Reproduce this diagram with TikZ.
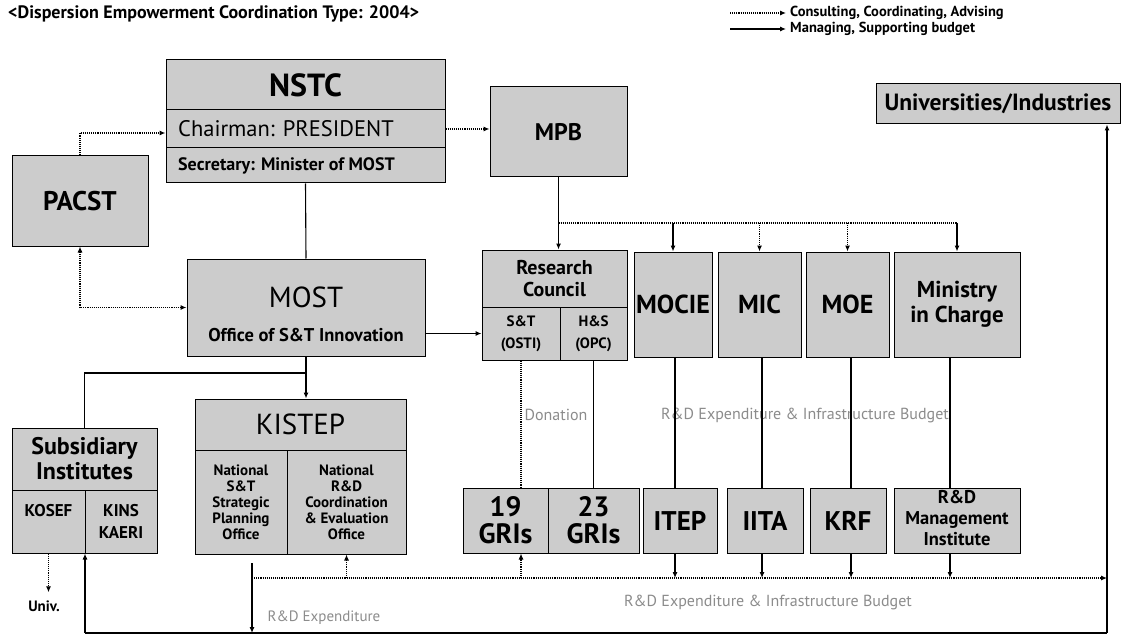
\documentclass[tikz,border=0pt]{standalone}
\usepackage{fontspec}
\setmainfont{PT Sans}
\usetikzlibrary{arrows.meta}
\definecolor{boxgray}{gray}{0.80}
\definecolor{lblgray}{gray}{0.55}
\newcommand\fz[2]{\fontsize{#1}{#2}\selectfont}
\begin{document}
\begin{tikzpicture}[x=1pt,y=-1pt,
  >={Latex[length=6pt,width=5pt]},
  box/.style={draw, line width=1pt, fill=boxgray, inner sep=0pt, align=center},
  sz/.style 2 args={minimum width=#1pt, minimum height=#2pt},
  solidline/.style={line width=1.1pt},
  dotline/.style={line width=1.1pt, densely dotted},
  lbl/.style={inner sep=0pt, text=lblgray, font=\fz{16}{18}},
  txt/.style={inner sep=0pt, font=\bfseries\fz{12}{14}}]
\path[use as bounding box, fill=white] (0,0) rectangle (1127,639);

% title and legend
\node[inner sep=0pt, anchor=west, font=\bfseries\fz{18}{20}] (title) at (8,14) {<Dispersion Empowerment Coordination Type: 2004>};
\coordinate (la1) at (730,13);
\coordinate (la2) at (786,13);
\coordinate (lb1) at (730,29);
\coordinate (lb2) at (786,29);
\node[txt, anchor=west, font=\bfseries\fz{14.5}{16}] (leg1) at (790,13) {Consulting, Coordinating, Advising};
\node[txt, anchor=west, font=\bfseries\fz{14.5}{16}] (leg2) at (790,29) {Managing, Supporting budget};
\draw[dotline,->] (la1) -- (la2);
\draw[solidline,->] (lb1) -- (lb2);

% NSTC
\node[box, sz={279}{50}, font=\bfseries\fz{32}{34}] (nstc) at (305.5,85) {NSTC};
\node[box, sz={279}{38}] (chair) at (305.5,129) {};
\node[box, sz={279}{35}] (secr) at (305.5,165.5) {};
\node[txt, anchor=west, font=\fz{22.5}{24}] (chairt) at (178,129) {Chairman: PRESIDENT};
\node[txt, anchor=west, font=\bfseries\fz{18}{20}] (secrt) at (178,165.5) {Secretary: Minister of MOST};

\node[box, sz={137}{90}, font=\bfseries\fz{24}{26}] (mpb) at (558.5,132) {MPB};
\node[box, sz={136}{90}, font=\bfseries\fz{27}{29}] (pacst) at (80,201) {PACST};
\node[box, sz={244}{40}, font=\bfseries\fz{23.5}{26}] (univ) at (998,104) {Universities/Industries};

% MOST
\node[box, sz={238}{97}] (most) at (306,307.5) {};
\node[txt, font=\fz{29}{30}] (mostt) at (306,297) {MOST};
\node[txt, font=\bfseries\fz{18.5}{20}] (mosts) at (306,335) {Office of S\&T Innovation};

% Research council
\node[box, sz={145}{57}, font=\bfseries\fz{20}{22}] (rc) at (554.5,278.5) {Research\\Council};
\node[box, sz={78}{53}, font=\bfseries\fz{15}{22}] (st) at (521,333.5) {S\&T\\(OSTI)};
\node[box, sz={67}{53}, font=\bfseries\fz{15}{22}] (hs) at (593.5,333.5) {H\&S\\(OPC)};

% ministries
\node[box, sz={78}{105}, font=\bfseries\fz{26}{28}] (mocie) at (673,304.5) {MOCIE};
\node[box, sz={83}{105}, font=\bfseries\fz{26}{28}] (mic) at (759.5,304.5) {MIC};
\node[box, sz={83}{105}, font=\bfseries\fz{26}{28}] (moe) at (847.5,304.5) {MOE};
\node[box, sz={126}{105}, font=\bfseries\fz{23}{25}] (moc) at (957,304.5) {Ministry\\in Charge};

% subsidiary
\node[box, sz={145}{62}, font=\bfseries\fz{24}{25}] (subt) at (84.5,459) {Subsidiary\\Institutes};
\node[box, sz={73}{63}, font=\bfseries\fz{17}{22}] (kosef) at (48.5,521.5) {KOSEF\\\phantom{K}};
\node[box, sz={72}{63}, font=\bfseries\fz{17}{22}] (kins) at (121,521.5) {KINS\\KAERI};
\node[txt, font=\bfseries\fz{15}{17}] (univl) at (44,606) {Univ.};

% KISTEP
\node[box, sz={211}{51}, font=\fz{29}{30}] (kistep) at (300.5,424.5) {KISTEP};
\node[box, sz={92}{104}, font=\bfseries\fz{15}{16}] (kl) at (241,502) {National\\S\&T\\Strategic\\Planning\\Office};
\node[box, sz={119}{104}, font=\bfseries\fz{15}{16}] (kr) at (346.5,502) {National\\R\&D\\Coordination\\\& Evaluation\\Office};

% institutes
\node[box, sz={85}{65}, font=\bfseries\fz{28}{27}] (g19) at (505.5,520.5) {19\\GRIs};
\node[box, sz={91}{65}, font=\bfseries\fz{28}{27}] (g23) at (593.5,520.5) {23\\GRIs};
\node[box, sz={74}{65}, font=\bfseries\fz{27}{29}] (itep) at (680,520.5) {ITEP};
\node[box, sz={76}{65}, font=\bfseries\fz{27}{29}] (iita) at (765,520.5) {IITA};
\node[box, sz={76}{65}, font=\bfseries\fz{27}{29}] (krf) at (848,520.5) {KRF};
\node[box, sz={126}{65}] (rdm) at (957,520.5) {};
\node[txt, align=center, font=\bfseries\fz{18.5}{21}] (rdmt) at (957,518) {R\&D\\Management\\Institute};

% gray labels
\node[lbl] (don) at (556,415) {Donation};
\node[lbl] (rdi1) at (805,415) {R\&D Expenditure \& Infrastructure Budget};
\node[lbl] (rdi2) at (768,602) {R\&D Expenditure \& Infrastructure Budget};
\node[lbl, font=\fz{15}{17}] (rde) at (324,618) {R\&D Expenditure};

% column coordinates
\coordinate (c1) at (675,0);
\coordinate (c2) at (762,0);
\coordinate (c3) at (851,0);
\coordinate (c4) at (950,0);
\coordinate (br) at (558.5,223);
\coordinate (mb) at (306,373);
\coordinate (bl) at (85,633);
\coordinate (brr) at (1107,633);
\coordinate (e1) at (252,563);
\coordinate (e2) at (252,578);

% connectors top
\draw[dotline,->] (pacst.north) |- ([yshift=-4pt]chair.west);
\draw[dotline,<->] (pacst.south) |- (most.west);
\draw[solidline] (secr.south) -- (most.north);
\draw[dotline,->] (chair.east) -- (chair.east -| mpb.west);
\draw[solidline,->] (mpb.south) -- (mpb.south |- rc.north);
\draw[dotline] (br) -- (br -| moc.north);
\draw[solidline,->] (br -| mocie.north) -- (mocie.north);
\draw[dotline,->] (br -| mic.north) -- (mic.north);
\draw[dotline,->] (br -| moe.north) -- (moe.north);
\draw[solidline,->] (br -| moc.north) -- (moc.north);
\draw[solidline,->] (most.east |- st.west) -- (st.west);

% down to institutes
\draw[dotline] (st.south) -- (st.south |- g19.north);
\draw[solidline] (hs.south) -- (hs.south |- g23.north);
\draw[solidline] (mocie.south -| c1) -- (itep.north -| c1);
\draw[solidline] (mic.south -| c2) -- (iita.north -| c2);
\draw[solidline] (moe.south -| c3) -- (krf.north -| c3);
\draw[solidline] (moc.south -| c4) -- (rdm.north -| c4);

% MOST down
\draw[solidline,->] (most.south) -- (most.south |- kistep.north);
\draw[solidline] (mb) -| (subt.north);
\draw[dotline,->,shorten >=8pt] (kosef.south) -- (kosef.south |- univl.north);

% bottom flows
\draw[solidline,->] (e1) -- (e1 |- bl);
\draw[dotline,->] (e2) -- (e2 -| brr);
\draw[dotline,->] (kr.south |- e2) -- (kr.south);
\draw[dotline,->] (st.south |- e2) -- (st.south |- g19.south);
\draw[solidline,->] (itep.south -| c1) -- (e2 -| c1);
\draw[solidline,->] (iita.south -| c2) -- (e2 -| c2);
\draw[solidline,->] (krf.south -| c3) -- (e2 -| c3);
\draw[solidline,->] (rdm.south -| c4) -- (e2 -| c4);
\draw[solidline,->] (bl) -- (bl |- kins.south);
\draw[solidline] (bl) -- (brr);
\draw[solidline,->] (brr) -- (brr |- univ.south);
\end{tikzpicture}
\end{document}
